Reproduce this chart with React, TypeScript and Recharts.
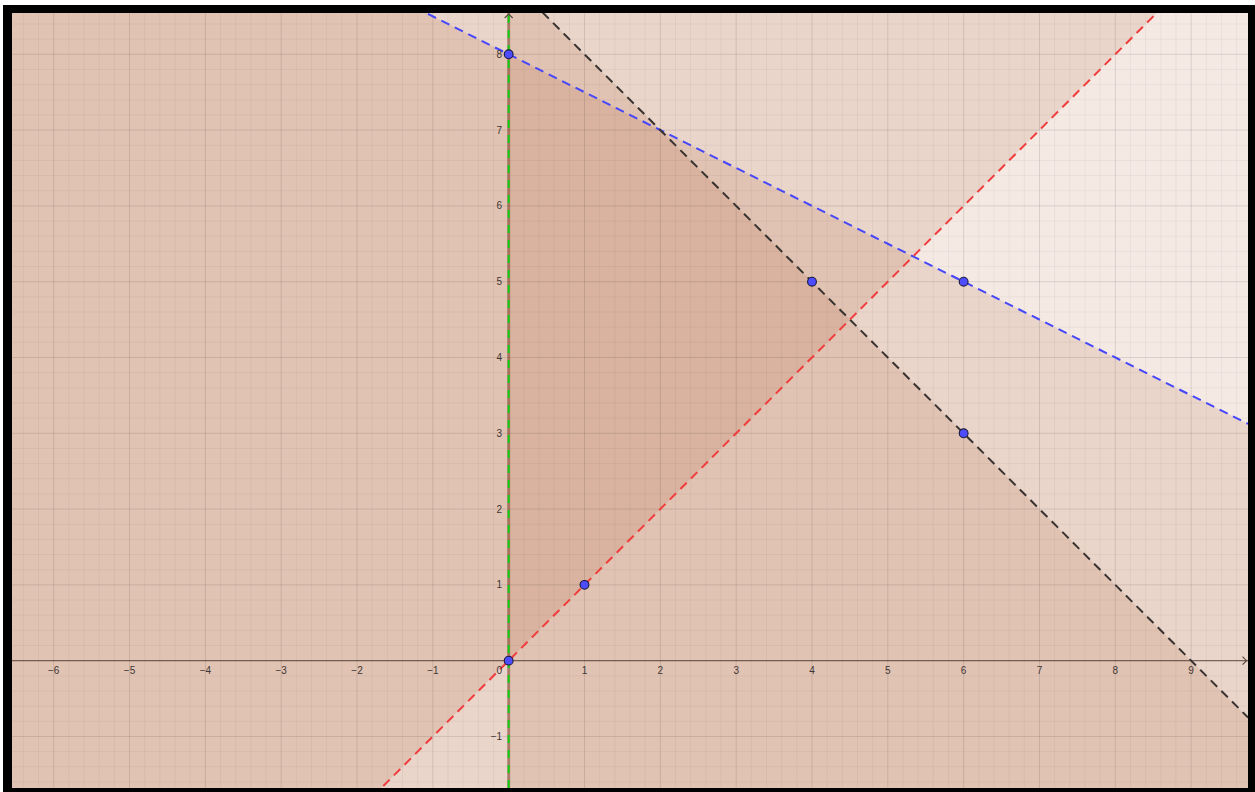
import React from 'react';
import { ComposedChart, XAxis, YAxis, Area, Line, Scatter, ReferenceLine, ReferenceArea } from 'recharts';

// Visible window of the coordinate plane
const X_MIN = -6.55;
const X_MAX = 9.75;
const Y_MIN = -1.68;
const Y_MAX = 8.545;

// Boundary lines, each given by two of the marked points
const blueLine = [{ x: 0, y: 8 }, { x: 6, y: 5 }];   // y = 8 - x/2
const blackLine = [{ x: 4, y: 5 }, { x: 6, y: 3 }];  // y = 9 - x
const redLine = [{ x: 0, y: 0 }, { x: 1, y: 1 }];    // y = x

// Marked points
const points = [
  { x: 0, y: 8 },
  { x: 6, y: 5 },
  { x: 4, y: 5 },
  { x: 6, y: 3 },
  { x: 0, y: 0 },
  { x: 1, y: 1 },
];

// Tick labels
const xTickLabels = [-6, -5, -4, -3, -2, -1, 1, 2, 3, 4, 5, 6, 7, 8, 9];
const yTickLabels = [-1, 1, 2, 3, 4, 5, 6, 7, 8];
const majorX = [-6, -5, -4, -3, -2, -1, 0, 1, 2, 3, 4, 5, 6, 7, 8, 9];
const majorY = [-1, 0, 1, 2, 3, 4, 5, 6, 7, 8];
const minorPerUnit = 5;

const minorX: number[] = [];
for (let i = -6 * minorPerUnit - 2; i <= 9 * minorPerUnit + 3; i++) {
  if (i % minorPerUnit !== 0) minorX.push(i / minorPerUnit);
}
const minorY: number[] = [];
for (let i = -1 * minorPerUnit - 3; i <= 8 * minorPerUnit + 2; i++) {
  if (i % minorPerUnit !== 0) minorY.push(i / minorPerUnit);
}

function lineAt(l: { x: number; y: number }[], x: number) {
  const m = (l[1].y - l[0].y) / (l[1].x - l[0].x);
  return l[0].y + m * (x - l[0].x);
}

const edgeXs = [X_MIN, X_MAX];
const chartData = edgeXs.map((x) => ({
  x,
  blue: lineAt(blueLine, x),
  black: lineAt(blackLine, x),
  red: lineAt(redLine, x),
  blueFill: [Y_MIN - 2, lineAt(blueLine, x)],
  blackFill: [Y_MIN - 2, lineAt(blackLine, x)],
  redFill: [lineAt(redLine, x), Y_MAX + 2],
}));

const fmt = (v: number) => (v < 0 ? '\u2212' + Math.abs(v) : String(v));
const xLabelData = xTickLabels.map((v) => ({ x: v, y: 0, label: fmt(v) }));
const yLabelData = yTickLabels.map((v) => ({ x: 0, y: v, label: fmt(v) }));
const originLabel = [{ x: 0, y: 0, label: '0' }];
const arrowData = [{ x: X_MAX, y: 0, kind: 'x' }, { x: 0, y: Y_MAX, kind: 'y' }];

const SHADE = '#993300';
const SHADE_OP = 0.11;
const FONT = 'Liberation Sans, Arial, sans-serif';
const LABEL_COLOR = '#3d3633';
const LABEL_SIZE = 10;

const XLabel = (p: any) => (
  <text x={p.cx} y={p.cy + 13.8} textAnchor="middle" fontFamily={FONT} fontSize={LABEL_SIZE} fill={LABEL_COLOR}>
    {p.payload.label}
  </text>
);
const YLabel = (p: any) => (
  <text x={p.cx - 6.5} y={p.cy + 3.6} textAnchor="end" fontFamily={FONT} fontSize={LABEL_SIZE} fill={LABEL_COLOR}>
    {p.payload.label}
  </text>
);
const OriginLabel = (p: any) => (
  <text x={p.cx - 6.5} y={p.cy + 13.8} textAnchor="end" fontFamily={FONT} fontSize={LABEL_SIZE} fill={LABEL_COLOR}>
    {p.payload.label}
  </text>
);
const Arrow = (p: any) => {
  if (p.payload.kind === 'x') {
    const t = p.cx - 1.5;
    return <path d={`M${t - 4},${p.cy - 4}L${t},${p.cy}L${t - 4},${p.cy + 4}`} fill="none" stroke="#5a4a42" strokeWidth={1.2} />;
  }
  const t = p.cy + 1;
  return <path d={`M${p.cx - 4},${t + 4}L${p.cx},${t}L${p.cx + 4},${t + 4}`} fill="none" stroke="#5a4a42" strokeWidth={1.2} />;
};
const Dot = (p: any) => (
  <circle cx={p.cx} cy={p.cy} r={4.4} fill="#4d4dff" stroke="#1a1a40" strokeWidth={1.1} />
);

export default function App() {
  return (
    <div style={{ position: 'absolute', left: 0, top: 0, width: 1255, height: 792, background: '#ffffff', overflow: 'hidden' }}>
      <div style={{ position: 'absolute', left: 3, top: 5, width: 1252, height: 787, background: '#000' }} />
      <div style={{ position: 'absolute', left: 12, top: 13, width: 1236, height: 775, background: '#fff' }} />
      <div style={{ position: 'absolute', left: 0, top: 0 }}>
        <ComposedChart
          width={1255}
          height={792}
          data={chartData}
          margin={{ top: 13, right: 7, bottom: 4, left: 12 }}
        >
          <XAxis type="number" dataKey="x" domain={[X_MIN, X_MAX]} allowDataOverflow hide />
          <YAxis type="number" domain={[Y_MIN, Y_MAX]} allowDataOverflow hide />

          {minorX.map((v) => (
            <ReferenceLine key={'mx' + v} x={v} stroke="#000" strokeOpacity={0.045} strokeWidth={1} />
          ))}
          {minorY.map((v) => (
            <ReferenceLine key={'my' + v} y={v} stroke="#000" strokeOpacity={0.045} strokeWidth={1} />
          ))}
          {majorX.map((v) => (
            <ReferenceLine key={'Mx' + v} x={v} stroke="#000" strokeOpacity={0.11} strokeWidth={1} />
          ))}
          {majorY.map((v) => (
            <ReferenceLine key={'My' + v} y={v} stroke="#000" strokeOpacity={0.11} strokeWidth={1} />
          ))}

          <ReferenceLine y={0} stroke="#2b1a12" strokeOpacity={0.55} strokeWidth={1.4} />

          <Area dataKey="blueFill" type="linear" fill={SHADE} fillOpacity={SHADE_OP} stroke="none" isAnimationActive={false} />
          <Area dataKey="blackFill" type="linear" fill={SHADE} fillOpacity={SHADE_OP} stroke="none" isAnimationActive={false} />
          <Area dataKey="redFill" type="linear" fill={SHADE} fillOpacity={SHADE_OP} stroke="none" isAnimationActive={false} />
          <ReferenceArea x1={0} x2={X_MAX} y1={Y_MIN} y2={Y_MAX} fill={SHADE} fillOpacity={SHADE_OP} stroke="none" />

          <ReferenceLine x={0} stroke="#7a3a20" strokeOpacity={0.5} strokeWidth={3} />

          <Line dataKey="blue" type="linear" stroke="#4646fa" strokeWidth={2} strokeDasharray="9 6" dot={false} activeDot={false} isAnimationActive={false} />
          <Line dataKey="black" type="linear" stroke="#383330" strokeWidth={2} strokeDasharray="9 6" dot={false} activeDot={false} isAnimationActive={false} />
          <Line dataKey="red" type="linear" stroke="#f03c3c" strokeWidth={2} strokeDasharray="9 6" dot={false} activeDot={false} isAnimationActive={false} />

          <ReferenceLine x={0} stroke="#11d011" strokeWidth={2} strokeDasharray="8 7" />

          <Scatter data={arrowData} dataKey="y" shape={Arrow} isAnimationActive={false} />
          <Scatter data={xLabelData} dataKey="y" shape={XLabel} isAnimationActive={false} />
          <Scatter data={yLabelData} dataKey="y" shape={YLabel} isAnimationActive={false} />
          <Scatter data={originLabel} dataKey="y" shape={OriginLabel} isAnimationActive={false} />
          <Scatter data={points} dataKey="y" shape={Dot} isAnimationActive={false} />
        </ComposedChart>
      </div>
    </div>
  );
}
